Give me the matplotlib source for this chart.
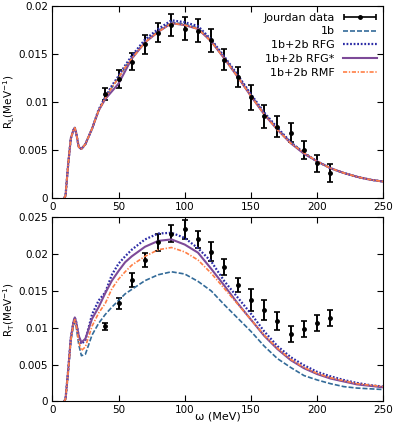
import numpy as np
import matplotlib
matplotlib.use('Agg')
import matplotlib.pyplot as plt
from matplotlib.ticker import FuncFormatter
from matplotlib.legend_handler import HandlerErrorbar

plt.rcParams['font.size'] = 8
plt.rcParams['mathtext.default'] = 'regular'

# energy transfer grid for the model curves (MeV)
omega = [9, 10, 12, 14, 16, 17, 18, 20, 22, 25, 30, 35, 40, 45, 50, 55, 60, 70,
         80, 90, 100, 110, 120, 130, 140, 150, 160, 170, 180, 190, 200, 210,
         220, 230, 240, 250]

# longitudinal response
RL_1b = [0, 0.0002, 0.0035, 0.0062, 0.0071, 0.0073, 0.0068, 0.0053, 0.0051,
         0.0056, 0.0072, 0.0091, 0.0104, 0.0115, 0.0125, 0.0136, 0.0146, 0.0163,
         0.0174, 0.0183, 0.0181, 0.0177, 0.0164, 0.0146, 0.0127, 0.0107, 0.0088,
         0.0072, 0.0058, 0.0047, 0.0038, 0.0031, 0.0026, 0.0022, 0.0019, 0.0017]
RL_rfg = [0, 0.0002, 0.0035, 0.0062, 0.0071, 0.0073, 0.0068, 0.0053, 0.0051,
          0.0056, 0.0072, 0.0092, 0.0105, 0.0117, 0.0127, 0.0138, 0.0148, 0.0165,
          0.0176, 0.0185, 0.0183, 0.0179, 0.0165, 0.0147, 0.0128, 0.0108, 0.0089,
          0.0073, 0.0058, 0.0047, 0.0038, 0.0031, 0.0026, 0.0022, 0.0019, 0.0017]
RL_rfgs = [0, 0.0002, 0.0035, 0.0062, 0.0071, 0.0073, 0.0068, 0.0053, 0.0051,
           0.0056, 0.0072, 0.0091, 0.0103, 0.0111, 0.0119, 0.0132, 0.0145, 0.0162,
           0.0173, 0.0182, 0.0180, 0.0176, 0.0163, 0.0145, 0.0126, 0.0106, 0.0087,
           0.0071, 0.0057, 0.0046, 0.0038, 0.0031, 0.0026, 0.0022, 0.0019, 0.0017]
RL_rmf = [0, 0.0002, 0.0035, 0.0062, 0.0071, 0.0073, 0.0068, 0.0053, 0.0051,
          0.0056, 0.0072, 0.0091, 0.0104, 0.0115, 0.0125, 0.0136, 0.0145, 0.0162,
          0.0173, 0.0182, 0.0180, 0.0176, 0.0163, 0.0145, 0.0126, 0.0106, 0.0087,
          0.0071, 0.0057, 0.0047, 0.0038, 0.0031, 0.0026, 0.0022, 0.0019, 0.0017]

# transverse response
RT_1b = [0, 0.0003, 0.0040, 0.0082, 0.0103, 0.0108, 0.0102, 0.0077, 0.0062,
         0.0064, 0.0090, 0.0106, 0.0118, 0.0128, 0.0137, 0.0146, 0.0152, 0.0164,
         0.0172, 0.0176, 0.0173, 0.0163, 0.0150, 0.0131, 0.0113, 0.0095, 0.0075,
         0.0058, 0.0046, 0.0035, 0.0029, 0.0024, 0.0020, 0.0018, 0.0017, 0.0016]
RT_rfg = [0, 0.0003, 0.0042, 0.0086, 0.0108, 0.0114, 0.0108, 0.0088, 0.0078,
          0.0083, 0.0118, 0.0137, 0.0148, 0.0172, 0.0187, 0.0197, 0.0206, 0.0220,
          0.0228, 0.0229, 0.0222, 0.0208, 0.0190, 0.0163, 0.0141, 0.0119, 0.0095,
          0.0075, 0.0060, 0.0049, 0.0040, 0.0034, 0.0029, 0.0025, 0.0022, 0.0020]
RT_rfgs = [0, 0.0003, 0.0042, 0.0086, 0.0108, 0.0114, 0.0108, 0.0089, 0.0080,
           0.0085, 0.0112, 0.0128, 0.0147, 0.0164, 0.0177, 0.0189, 0.0197, 0.0210,
           0.0218, 0.0220, 0.0213, 0.0202, 0.0180, 0.0157, 0.0133, 0.0111, 0.0089,
           0.0071, 0.0056, 0.0045, 0.0037, 0.0031, 0.0027, 0.0023, 0.0021, 0.0019]
RT_rmf = [0, 0.0003, 0.0040, 0.0083, 0.0105, 0.0111, 0.0104, 0.0081, 0.0069,
          0.0074, 0.0102, 0.0120, 0.0133, 0.0153, 0.0166, 0.0176, 0.0185, 0.0197,
          0.0206, 0.0209, 0.0203, 0.0192, 0.0174, 0.0153, 0.0132, 0.0111, 0.0090,
          0.0072, 0.0057, 0.0046, 0.0038, 0.0032, 0.0028, 0.0024, 0.0022, 0.0020]

# Jourdan data
data_w = [40, 50, 60, 70, 80, 90, 100, 110, 120, 130, 140, 150, 160, 170, 180,
          190, 200, 210]
data_RL = [0.0108, 0.0124, 0.0142, 0.0160, 0.0172, 0.0180, 0.0176, 0.0174,
           0.0164, 0.0144, 0.0126, 0.0105, 0.0085, 0.0074, 0.0068, 0.0050,
           0.0036, 0.0026]
err_RL = [0.0006, 0.0009, 0.0009, 0.0010, 0.0010, 0.00115, 0.0012, 0.0012,
          0.0012, 0.0011, 0.0010, 0.0013, 0.0012, 0.0011, 0.0010, 0.00095,
          0.00092, 0.00095]
data_RT = [0.0102, 0.0133, 0.0165, 0.0192, 0.0216, 0.0228, 0.0234, 0.0220,
           0.0203, 0.0183, 0.0158, 0.0138, 0.0124, 0.0109, 0.0091, 0.0098,
           0.0106, 0.0113]
err_RT = [0.00045, 0.0007, 0.0009, 0.0010, 0.0012, 0.0011, 0.0013, 0.0012,
          0.0013, 0.0011, 0.0010, 0.0015, 0.0014, 0.0012, 0.0011, 0.0011,
          0.0011, 0.0011]

c_1b = '#336b99'
c_rfg = '#2b2ba6'
c_rfgs = '#7d4a98'
c_rmf = '#ff7f45'

fig = plt.figure(figsize=(3.99, 4.22), dpi=100)
ax1 = fig.add_axes([0.131, 0.531, 0.83, 0.455])
ax2 = fig.add_axes([0.131, 0.049, 0.83, 0.436])

fmt = FuncFormatter(lambda v, p: '%g' % v)


def draw(ax, r1b, rfg, rfgs, rmf, dat, err):
    ax.errorbar(data_w, dat, yerr=err, fmt='o', color='black', ms=2.5,
                elinewidth=1.4, capsize=2.5, capthick=1.2)
    h = []
    h += ax.plot(omega, r1b, color=c_1b, lw=1.2, dashes=(3, 1.2), label='1b')
    h += ax.plot(omega, rfg, color=c_rfg, lw=1.6, dashes=(0.8, 0.8),
                 label='1b+2b RFG')
    h += ax.plot(omega, rfgs, '-', color=c_rfgs, lw=1.5, label='1b+2b RFG*')
    h += ax.plot(omega, rmf, color=c_rmf, lw=1.2, dashes=(2.5, 1, 0.8, 1),
                 label='1b+2b RMF')
    ax.set_xlim(0, 250)
    ax.set_xticks([0, 50, 100, 150, 200, 250])
    ax.yaxis.set_major_formatter(fmt)
    ax.tick_params(direction='in', top=True, right=True, length=4,
                   labelsize=7.5, pad=3)
    return h


lines = draw(ax1, RL_1b, RL_rfg, RL_rfgs, RL_rmf, data_RL, err_RL)
ax1.set_ylim(0, 0.02)
ax1.set_yticks([0, 0.005, 0.01, 0.015, 0.02])
ax1.set_ylabel('R$_L$(MeV$^{-1}$)', fontsize=7.5)
ax1.yaxis.set_label_coords(-0.105, 0.5)

# legend proxy: horizontal error bar with caps
proxy = ax1.errorbar([np.nan], [np.nan], xerr=[1], fmt='o', color='black',
                     ms=2.5, elinewidth=1.2, capsize=2.5, capthick=1.2,
                     label='Jourdan data')
ax1.legend([proxy] + lines, ['Jourdan data'] + [l.get_label() for l in lines],
           loc='upper right', frameon=False, markerfirst=False, fontsize=8,
           handlelength=3.0, labelspacing=0.35, borderaxespad=0.2,
           handler_map={proxy: HandlerErrorbar(xerr_size=1.45, numpoints=1)})
ax1.set_xlim(0, 250)

draw(ax2, RT_1b, RT_rfg, RT_rfgs, RT_rmf, data_RT, err_RT)
ax2.set_ylim(0, 0.025)
ax2.set_yticks([0, 0.005, 0.01, 0.015, 0.02, 0.025])
ax2.set_ylabel('R$_T$(MeV$^{-1}$)', fontsize=7.5)
ax2.yaxis.set_label_coords(-0.105, 0.5)
ax2.set_xlabel('ω (MeV)', fontsize=8)
ax2.xaxis.set_label_coords(0.5, -0.058)

fig.savefig('out.png', dpi=100)
